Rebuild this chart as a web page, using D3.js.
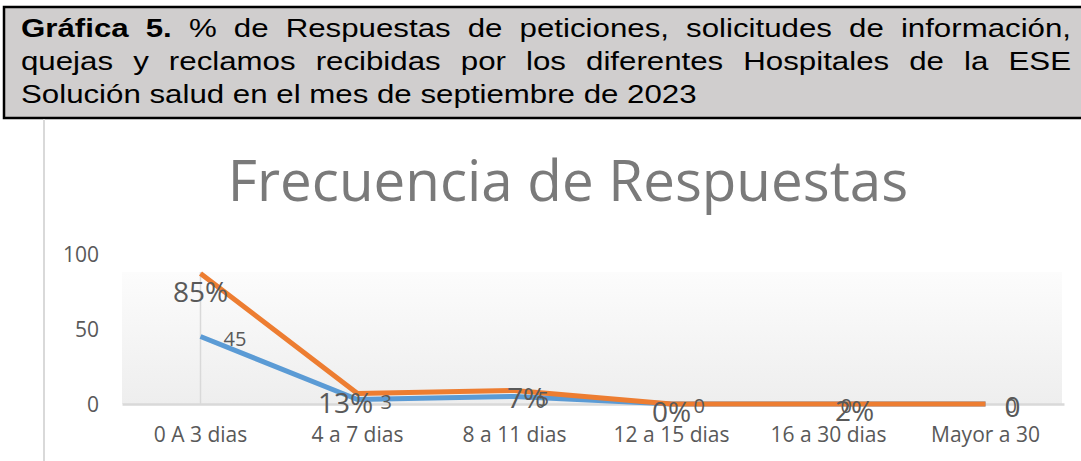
<!DOCTYPE html>
<html>
<head>
<meta charset="utf-8">
<script src="https://cdn.jsdelivr.net/npm/d3@7"></script>
<style>
  body { margin: 0; background: #fff; }
  svg { display: block; }
</style>
</head>
<body>
<div id="chart"></div>
<script>
// data
var categories = ["0 A 3 dias", "4 a 7 dias", "8 a 11 dias", "12 a 15 dias", "16 a 30 dias", "Mayor a 30"];
var blueValues = [45, 3, 5, 0, 0, 0];
var orangeValues = [87, 7, 9, 0, 0, 0];
var orangeLabels = ["85%", "13%", "7%", "0%", "2%", "0"];
var yTicks = [0, 50, 100];

var headerLines = [
    "Gráfica 5. % de Respuestas de peticiones, solicitudes de información,",
    "quejas y reclamos recibidas por los diferentes Hospitales de la ESE",
    "Solución salud en el mes de septiembre de 2023"
];
var boldWords = 2; // "Gráfica 5." is bold
var chartTitle = "Frecuencia de Respuestas";

// label nudges in px (the original labels sit a bit everywhere)
var orangeNudge = [[0, 18], [-12, 9], [12, 7], [0, 8], [26, 7], [27, 3]];
var blueNudge = [23, 23, 23, 22, 12, 20];

var fullWidth = 1081, fullHeight = 461;
var svg = d3.select('#chart').append('svg')
    .attr('width', fullWidth)
    .attr('height', fullHeight);

// ---- header box ----
svg.append('rect')
    .attr('x', 4).attr('y', 7)
    .attr('width', 1090).attr('height', 111)
    .attr('fill', '#d0cece')
    .attr('stroke', '#000')
    .attr('stroke-width', 2.5);

var stretch = 1.25;   // the header text is a bit wide in the picture
var lineLeft = 21, lineRight = 1071;
var baselines = [37, 70, 103];

headerLines.forEach(function(line, li) {
    var g = svg.append('g')
        .attr('transform', 'translate(' + lineLeft + ',' + baselines[li] + ') scale(' + stretch + ',1)');
    var words = line.split(' ');
    var nodes = words.map(function(w, wi) {
        return g.append('text')
            .attr('font-family', 'Liberation Sans, Arial, sans-serif')
            .attr('font-size', 25)
            .attr('font-weight', (li == 0 && wi < boldWords) ? 'bold' : 'normal')
            .attr('fill', '#000')
            .text(w);
    });
    var widths = nodes.map(function(n) { return n.node().getComputedTextLength(); });
    var total = d3.sum(widths);
    var gap;
    if (li < headerLines.length - 1) {
        // justified lines
        gap = ((lineRight - lineLeft) / stretch - total) / (words.length - 1);
    } else {
        gap = 25 * 0.278;
    }
    var x = 0;
    nodes.forEach(function(n, i) {
        n.attr('x', x);
        x += widths[i] + gap;
    });
});

// left frame line of the chart
svg.append('line')
    .attr('x1', 44).attr('x2', 44)
    .attr('y1', 119).attr('y2', fullHeight)
    .attr('stroke', '#d9d9d9')
    .attr('stroke-width', 2);

// ---- chart title ----
svg.append('text')
    .attr('x', 568)
    .attr('y', 201)
    .attr('text-anchor', 'middle')
    .attr('font-family', 'Open Sans, sans-serif')
    .attr('font-size', 56.5)
    .attr('fill', '#7a7a7a')
    .text(chartTitle);

// ---- scales ----
var plotLeft = 122, plotRight = 1064;
var xScale = d3.scaleBand()
    .domain(categories)
    .range([plotLeft, plotRight]);
var yScale = d3.scaleLinear()
    .domain([0, 100])
    .range([404, 254]);
var cx = function(d, i) { return xScale(categories[i]) + xScale.bandwidth() / 2; };

// plot background (soft gradient)
var defs = svg.append('defs');
var grad = defs.append('linearGradient')
    .attr('id', 'bg').attr('x1', 0).attr('x2', 0).attr('y1', 0).attr('y2', 1);
grad.append('stop').attr('offset', '0%').attr('stop-color', '#fcfcfc');
grad.append('stop').attr('offset', '100%').attr('stop-color', '#eeeeee');

svg.append('rect')
    .attr('x', plotLeft)
    .attr('y', 272)
    .attr('width', plotRight - plotLeft - 2)
    .attr('height', yScale(0) - 272)
    .attr('fill', 'url(#bg)');

// vertical grid line at first category
svg.append('line')
    .attr('x1', cx(null, 0)).attr('x2', cx(null, 0))
    .attr('y1', 272).attr('y2', yScale(0))
    .attr('stroke', '#d9d9d9')
    .attr('stroke-width', 1.5);

// ---- axes ----
var yAxis = d3.axisLeft(yScale).tickValues(yTicks).tickSize(0).tickPadding(0);
var yAxisEle = svg.append('g')
    .attr('transform', 'translate(99,0)')
    .call(yAxis);
yAxisEle.select('.domain').remove();
yAxisEle.selectAll('text')
    .attr('font-family', 'Open Sans, sans-serif')
    .attr('font-size', 21)
    .attr('fill', '#595959')
    .attr('x', 0)
    .attr('dy', '0.36em');

var xAxis = d3.axisBottom(xScale).tickSize(0);
var xAxisEle = svg.append('g')
    .attr('transform', 'translate(0,' + yScale(0) + ')')
    .call(xAxis);
xAxisEle.select('.domain')
    .attr('stroke', '#d9d9d9')
    .attr('stroke-width', 2.5);
xAxisEle.selectAll('text')
    .attr('font-family', 'Open Sans, sans-serif')
    .attr('font-size', 21)
    .attr('fill', '#595959')
    .attr('y', 38)
    .attr('dy', 0);

// ---- lines ----
var line = function(values) {
    return d3.line()
        .x(function(d, i) { return cx(d, i); })
        .y(function(d) { return yScale(d); })(values);
};

svg.append('path')
    .attr('d', line(blueValues))
    .attr('fill', 'none')
    .attr('stroke', '#5b9bd5')
    .attr('stroke-width', 5)
    .attr('stroke-linejoin', 'round');

svg.append('path')
    .attr('d', line(orangeValues))
    .attr('fill', 'none')
    .attr('stroke', '#ed7d31')
    .attr('stroke-width', 5)
    .attr('stroke-linejoin', 'round');

// ---- data labels ----
svg.selectAll('text.blue-label')
    .data(blueValues)
  .enter().append('text')
    .classed('blue-label', true)
    .attr('x', function(d, i) { return cx(d, i) + blueNudge[i]; })
    .attr('y', function(d) { return yScale(d) + 2 + 7; })
    .attr('font-family', 'Open Sans, sans-serif')
    .attr('font-size', 20)
    .attr('fill', '#595959')
    .text(function(d) { return d; });

svg.selectAll('text.orange-label')
    .data(orangeValues)
  .enter().append('text')
    .classed('orange-label', true)
    .attr('x', function(d, i) { return cx(d, i) + orangeNudge[i][0]; })
    .attr('y', function(d, i) { return yScale(d) + orangeNudge[i][1] + 10; })
    .attr('text-anchor', 'middle')
    .attr('font-family', 'Open Sans, sans-serif')
    .attr('font-size', 28)
    .attr('fill', '#595959')
    .text(function(d, i) { return orangeLabels[i]; });
</script>
</body>
</html>
